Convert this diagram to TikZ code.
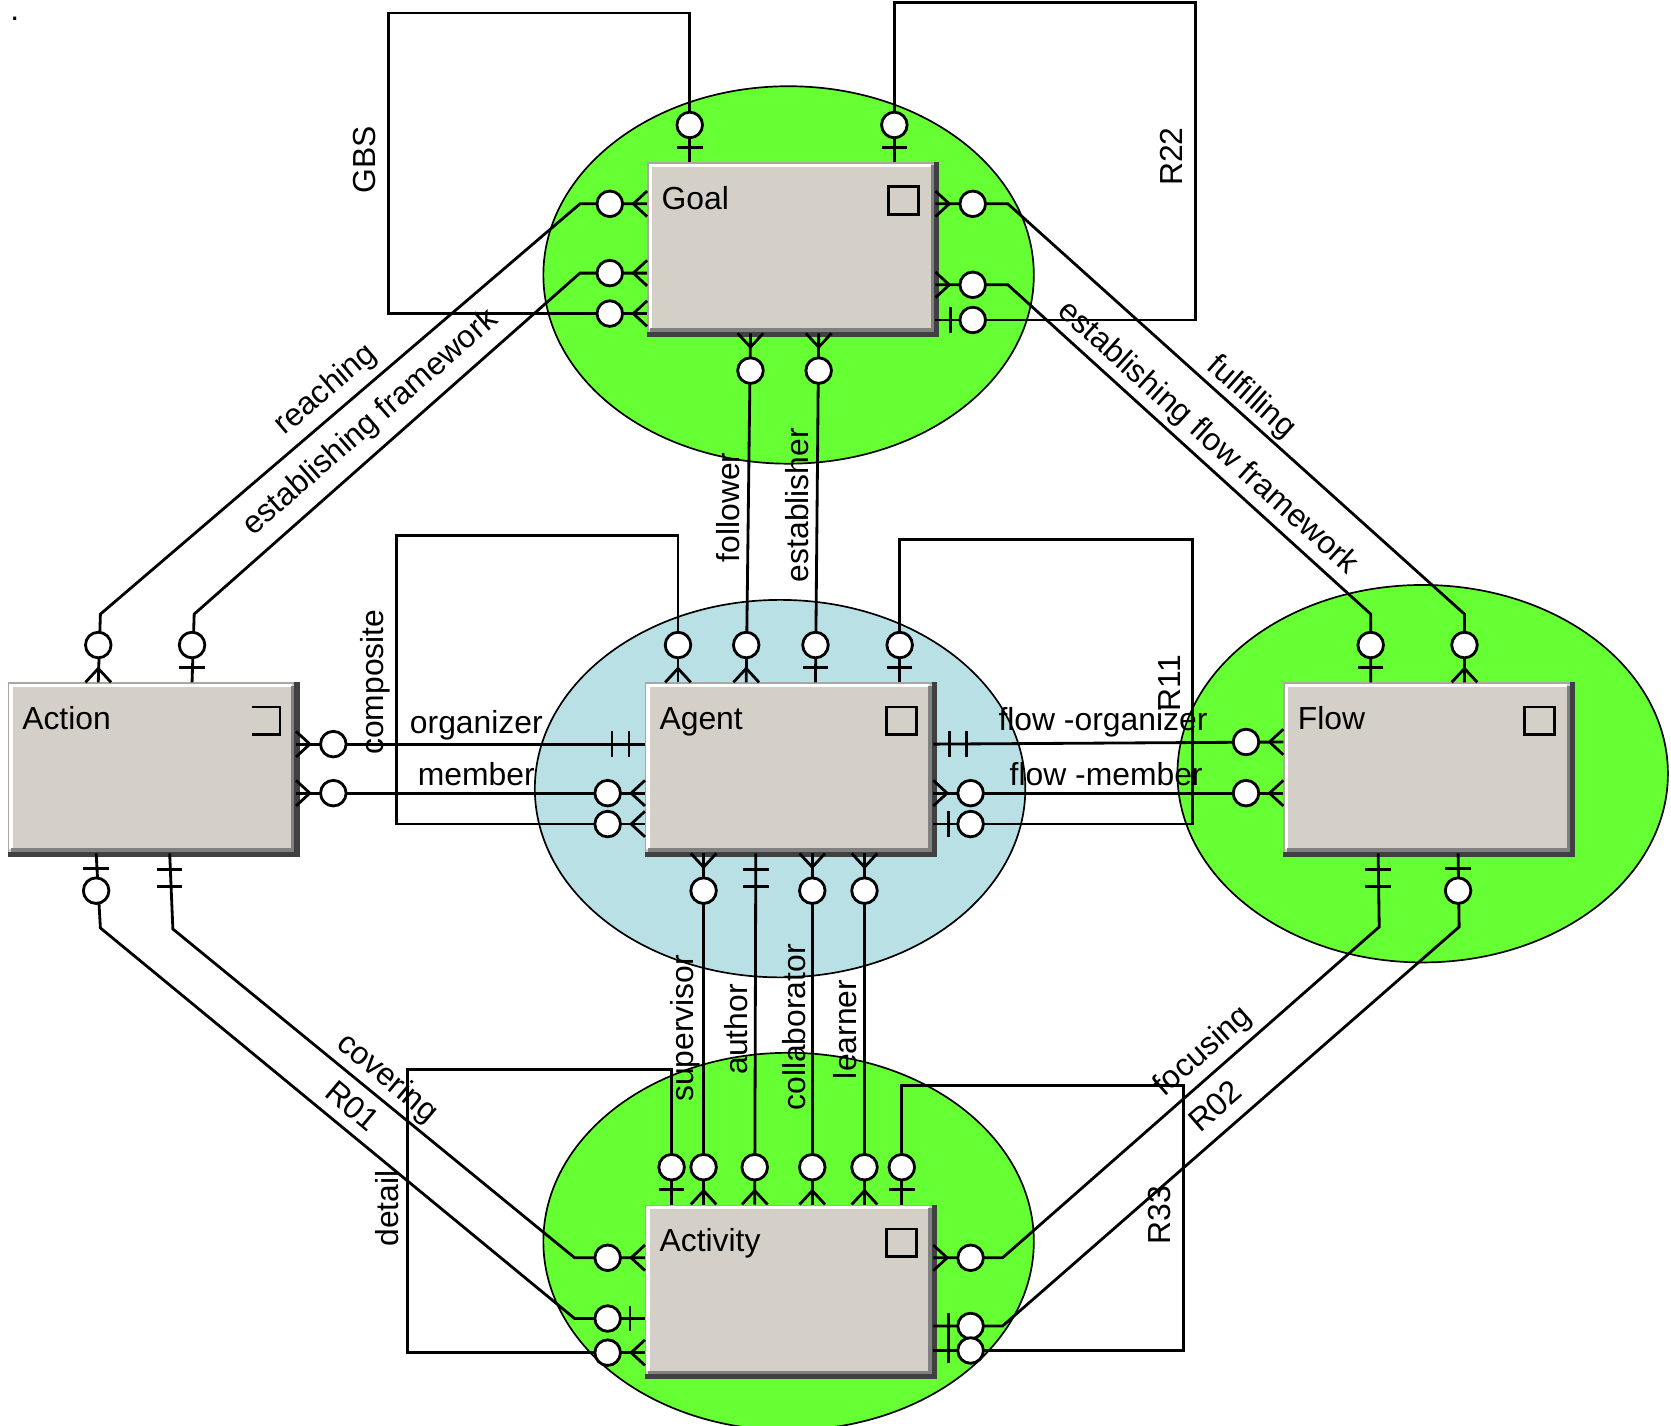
\documentclass[tikz,border=0pt]{standalone}
\usepackage{fontspec}
\setmainfont{Liberation Sans}
\usetikzlibrary{calc, shapes.geometric}
\definecolor{zonegreen}{RGB}{102,255,51}
\definecolor{zoneblue}{RGB}{185,224,228}
\definecolor{boxgray}{RGB}{212,208,200}
\definecolor{boxdark}{RGB}{64,64,64}
\tikzset{
  zone/.style={ellipse, draw=black, line width=0.45pt, minimum width=4.6cm,
               minimum height=3.54cm, inner sep=0pt},
  ent/.style={fill=boxgray, draw=boxgray!80!black, line width=0.4pt,
              minimum width=2.69cm, minimum height=1.59cm, inner sep=0pt},
  conn/.style={line width=0.75pt, black},
  erl/.style={line width=0.75pt, black},
  lbl/.style={font=\fontsize{8.5}{10}\selectfont, inner sep=0pt},
}
% end markers: point, outward angle
\newcommand{\crowO}[2]{%
  \begin{scope}[shift={(#1)}, rotate=#2]
    \draw[erl] (0,12) -- (13,0) -- (0,-12);
    \draw[erl, fill=white] (35,0) circle [radius=12];
  \end{scope}}
\newcommand{\barO}[2]{%
  \begin{scope}[shift={(#1)}, rotate=#2]
    \draw[erl] (14,12) -- (14,-12);
    \draw[erl, fill=white] (35,0) circle [radius=12];
  \end{scope}}
\newcommand{\dbar}[2]{%
  \begin{scope}[shift={(#1)}, rotate=#2]
    \draw[erl] (15,12) -- (15,-12) (31,12) -- (31,-12);
  \end{scope}}
\newcommand{\entity}[3]{%
  \node[ent] (#1) at (#2) {};
  \draw[white, line width=0.9pt] ($(#1.south west)+(3,-4)$) |- ($(#1.north east)+(-4,3)$);
  \draw[gray, line width=0.9pt] ($(#1.south west)+(3,-3)$) -| ($(#1.north east)+(-3,3)$);
  \draw[boxdark, line width=1.4pt] ($(#1.south west)+(0,1)$) -| ($(#1.north east)+(1,0)$);
  \node[lbl, anchor=base west] (#1-t) at ($(#1.north west)+(13,44)$) {#3};}

\begin{document}
\begin{tikzpicture}[x=0.01cm, y=-0.01cm]
  \useasboundingbox (0,0) rectangle (1568,1338);
  \node[lbl] (dot) at (14,18) {.};

  % ── zones ──────────────────────────────────────────────
  \node[zone, fill=zonegreen] (goalzone) at (740,258) {};
  \node[zone, fill=zoneblue]  (agentzone) at (732,740) {};
  \node[zone, fill=zonegreen] (flowzone) at (1335,726) {};
  \node[zone, fill=zonegreen] (activityzone) at (740,1165) {};

  % ── entities ───────────────────────────────────────────
  \entity{goal}{742.5,232.5}{Goal}
  \entity{action}{142.5,720.5}{Action}
  \entity{agent}{740.5,720.5}{Agent}
  \entity{flow}{1339.5,720.5}{Flow}
  \entity{activity}{740.5,1210.5}{Activity}
  \foreach \e in {goal,agent,flow,activity}
    \draw[line width=0.7pt] ($(\e.north east)+(-44,23)$) rectangle ++(28,26);
  \draw[line width=0.7pt] ($(action.north east)+(-41,23)$) -| ++(26,26) -- ++(-26,0);

  % ── end points ─────────────────────────────────────────
  \foreach \n/\d in {gT1/40,gT2/232} \coordinate (\n) at ($(goal.north west)+(\d,0)$);
  \foreach \n/\d in {gL1/39,gL2/104,gL3/142} \coordinate (\n) at ($(goal.north west)+(0,\d)$);
  \foreach \n/\d in {gR1/39,gR2/115,gR3/148} \coordinate (\n) at ($(goal.north east)+(0,\d)$);
  \foreach \n/\d in {gB1/97,gB2/161} \coordinate (\n) at ($(goal.south west)+(\d,0)$);
  \foreach \n/\d in {acT1/85,acT2/173} \coordinate (\n) at ($(action.north west)+(\d,0)$);
  \foreach \n/\d in {acR1/58,acR2/104} \coordinate (\n) at ($(action.north east)+(0,\d)$);
  \foreach \n/\d in {acB1/83,acB2/152} \coordinate (\n) at ($(action.south west)+(\d,0)$);
  \foreach \n/\d in {agT1/31,agT2/95,agT3/160,agT4/239} \coordinate (\n) at ($(agent.north west)+(\d,0)$);
  \foreach \n/\d in {agL1/58,agL2/104,agL3/133} \coordinate (\n) at ($(agent.north west)+(0,\d)$);
  \foreach \n/\d in {agR1/58,agR2/104,agR3/133} \coordinate (\n) at ($(agent.north east)+(0,\d)$);
  \foreach \n/\d in {agB1/55,agB2/104,agB3/157,agB4/206} \coordinate (\n) at ($(agent.south west)+(\d,0)$);
  \foreach \n/\d in {flT1/82,flT2/170} \coordinate (\n) at ($(flow.north west)+(\d,0)$);
  \foreach \n/\d in {flL1/56,flL2/104} \coordinate (\n) at ($(flow.north west)+(0,\d)$);
  \foreach \n/\d in {flB1/89,flB2/164} \coordinate (\n) at ($(flow.south west)+(\d,0)$);
  \foreach \n/\d in {avT1/25,avT2/55,avT3/103,avT4/157,avT5/206,avT6/241}
    \coordinate (\n) at ($(activity.north west)+(\d,0)$);
  \foreach \n/\d in {avL1/50,avL2/107,avL3/139} \coordinate (\n) at ($(activity.north west)+(0,\d)$);
  \foreach \n/\d in {avR1/50,avR2/114,avR3/137} \coordinate (\n) at ($(activity.north east)+(0,\d)$);

  % ── connectors ─────────────────────────────────────────
  \draw[conn] (gL1) -- ++(-63,0) -- ($(acT1)+(2,-64)$) -- (acT1);
  \draw[conn] (gL2) -- ++(-63,0) -- ($(acT2)+(2,-64)$) -- (acT2);
  \draw[conn] (gT1) -- ++(0,-140) -| ($(gL3)+(-243,0)$) -- (gL3);
  \draw[conn] (gT2) -- ++(0,-150) -| ($(gR3)+(244,0)$) -- (gR3);
  \draw[conn] (gR1) -- ++(68,0) -- ($(flT2)+(0,-64)$) -- (flT2);
  \draw[conn] (gR2) -- ++(68,0) -- ($(flT1)+(0,-64)$) -- (flT1);
  \draw[conn] (gB1) -- (agT2);
  \draw[conn] (gB2) -- (agT3);
  \draw[conn] (agT1) -- ++(0,-138) -| ($(agL3)+(-233,0)$) -- (agL3);
  \draw[conn] (agT4) -- ++(0,-134) -| ($(agR3)+(243,0)$) -- (agR3);
  \draw[conn] (acR1) -- (agL1);
  \draw[conn] (acR2) -- (agL2);
  \draw[conn] (agR1) -- (flL1);
  \draw[conn] (agR2) -- (flL2);
  \draw[conn] (agB1) -- (avT2);
  \draw[conn] (agB2) -- (avT3);
  \draw[conn] (agB3) -- (avT4);
  \draw[conn] (agB4) -- (avT5);
  \draw[conn] (avT1) -- ++(0,-127) -| ($(avL3)+(-223,0)$) -- (avL3);
  \draw[conn] (avT6) -- ++(0,-112) -| ($(avR3)+(235,0)$) -- (avR3);
  \draw[conn] (avL1) -- ++(-66,0) -- ($(acB2)+(3,71)$) -- (acB2);
  \draw[conn] (avL2) -- ++(-66,0) -- ($(acB1)+(4,70)$) -- (acB1);
  \draw[conn] (avR1) -- ++(65,0) -- ($(flB1)+(1,69)$) -- (flB1);
  \draw[conn] (avR2) -- ++(65,0) -- ($(flB2)+(1,69)$) -- (flB2);

  % ── markers ────────────────────────────────────────────
  \foreach \p in {gT1,gT2,acT2,agT3,agT4,flT1,avT1,avT6} \barO{\p}{90};
  \foreach \p in {acT1,agT1,agT2,flT2,avT2,avT3,avT4,avT5} \crowO{\p}{90};
  \foreach \p in {gL1,gL2,gL3,agL2,agL3,flL1,flL2,avL1,avL3} \crowO{\p}{180};
  \foreach \p in {gR1,gR2,acR1,acR2,agR2,avR1} \crowO{\p}{0};
  \foreach \p in {gR3,agR3,avR2,avR3} \barO{\p}{0};
  \foreach \p in {gB1,gB2,agB1,agB3,agB4} \crowO{\p}{-90};
  \foreach \p in {acB1,flB2} \barO{\p}{-90};
  \foreach \p in {acB2,agB2,flB1} \dbar{\p}{-90};
  \barO{avL2}{180}
  \dbar{agL1}{180}
  \dbar{agR1}{0}

  % ── labels ─────────────────────────────────────────────
  \node[lbl, rotate=90] (gbs) at (342,150) {GBS};
  \node[lbl, rotate=90] (r22) at (1099,147) {R22};
  \node[lbl, rotate=40.5] (reach) at (306,366) {reaching};
  \node[lbl, rotate=41] (estfw) at (348,397) {establishing framework};
  \node[lbl, rotate=-41.5] (fulf) at (1174,373) {fulfilling};
  \node[lbl, rotate=-42] (estflow) at (1133,411) {establishing flow framework};
  \node[lbl, rotate=90] (follow) at (683,476) {follower};
  \node[lbl, rotate=90] (establ) at (748,474) {establisher};
  \node[lbl, rotate=90] (compo) at (352,640) {composite};
  \node[lbl] (orga) at (447,681) {organizer};
  \node[lbl] (memb) at (447,726) {member};
  \node[lbl] (forga) at (1035,678) {flow -organizer};
  \node[lbl] (fmemb) at (1038,726) {flow -member};
  \node[lbl, rotate=90] (r11) at (1097,641) {R11};
  \node[lbl, rotate=90] (superv) at (643,965) {supervisor};
  \node[lbl, rotate=90] (auth) at (691,966) {author};
  \node[lbl, rotate=90] (collab) at (745,964) {collaborator};
  \node[lbl, rotate=90] (learn) at (793,966) {learner};
  \node[lbl, rotate=-40] (cover) at (363,1012) {covering};
  \node[lbl, rotate=-40] (r01) at (331,1038) {R01};
  \node[lbl, rotate=90] (detail) at (363,1134) {detail};
  \node[lbl, rotate=41.5] (focus) at (1129,987) {focusing};
  \node[lbl, rotate=41] (r02) at (1140,1038) {R02};
  \node[lbl, rotate=90] (r33) at (1088,1140) {R33};
\end{tikzpicture}
\end{document}
